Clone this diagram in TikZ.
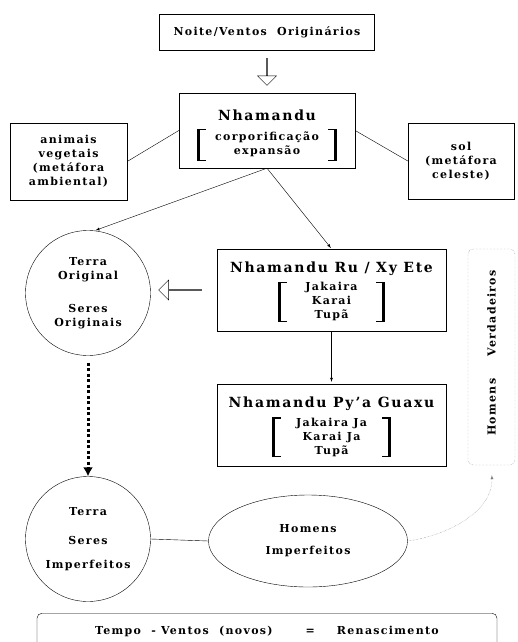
\documentclass[tikz,border=0pt]{standalone}
\usepackage{fontspec}
\setmainfont{DejaVu Serif}[LetterSpace=12]
\usepackage{tikz}
\usetikzlibrary{arrows,arrows.meta,shapes,positioning}
\tikzset{
  basic/.style  = {draw, thin, font=\bfseries\fontsize{11}{14}\selectfont, align=center},
  caixa/.style  = {basic, rectangle, inner sep=2pt},
  roda/.style   = {basic, circle, minimum size=125pt, inner sep=0pt},
  oval/.style   = {basic, ellipse, minimum width=199pt, minimum height=92pt, inner sep=0pt},
  oca/.style    = {draw, single arrow, fill=white, inner sep=0pt, single arrow head extend=5pt}
}
% colchetes grossos: #1 largura do miolo, #2 altura, #3 linhas
\newcommand{\barraL}[1]{\rlap{\rule{9pt}{1.3pt}}\rlap{\rule[\dimexpr#1-1.3pt]{9pt}{1.3pt}}\rule{3pt}{#1}}
\newcommand{\barraR}[1]{\rule{3pt}{#1}\llap{\rule{9pt}{1.3pt}}\llap{\rule[\dimexpr#1-1.3pt]{9pt}{1.3pt}}}
\newcommand{\colchete}[3]{$\vcenter{\hbox{\barraL{#2}}}$\makebox[#1][c]{\begin{tabular}{@{}c@{}}#3\end{tabular}}$\vcenter{\hbox{\barraR{#2}}}$}
\newcommand{\tit}[2]{{\bfseries\fontsize{14}{17}\selectfont\rule{0pt}{#1}#2}}

\begin{document}
\begin{tikzpicture}[x=1pt,y=1pt,>=latex]
\useasboundingbox (0,0) rectangle (517,-642);

% topo: ventos, Nhamandu e as duas metaforas
\node[caixa, minimum width=215pt, minimum height=36pt] (noite) at (267,-32) {Noite/Ventos\ \ Originários};
\node[oca, below=8pt of noite, shape border rotate=270, minimum height=27pt, minimum width=19pt] (setaA) {};
\node[caixa, minimum width=176pt, minimum height=75pt] (nham) at (267,-130.5)
  {\tit{21pt}{Nhamandu}\\[7pt] \colchete{134pt}{32pt}{corporificação\\expansão}};
\node[caixa, minimum width=117pt, minimum height=77pt] (animais) at (68.5,-161.5) {animais\\vegetais\\(metáfora\\ambiental)};
\node[caixa, minimum width=106pt, minimum height=76pt] (sol) at (461,-161) {sol\\(metáfora\\celeste)};

\node[roda] (terraorig) at (88,-293) {Terra\\Original\\[19pt]Seres\\Originais};
\node[caixa, minimum width=229pt, minimum height=82pt] (ru) at (331.5,-290)
  {\tit{16pt}{Nhamandu Ru / Xy Ete}\\[4pt] \colchete{101pt}{40pt}{Jakaira\\Karai\\Tupã}};
\node[oca, left=15pt of ru, shape border rotate=180, minimum height=43pt, minimum width=20pt] (setaB) {};
\node[caixa, minimum width=229pt, minimum height=82pt] (pya) at (331.5,-425)
  {\tit{15.5pt}{Nhamandu Py’a Guaxu}\\[5pt] \colchete{113pt}{40pt}{Jakaira Ja\\Karai Ja\\Tupã}};

\node[roda] (terraimp) at (88,-539) {Terra\\[15pt]Seres\\[10pt]Imperfeitos};
\node[oval] (homens) at (308,-541) {Homens\\[8pt]Imperfeitos};
\node[caixa, rounded corners=5pt, densely dotted, draw=gray, rotate=90,
      minimum width=216pt, minimum height=47pt] (verdad) at (491.5,-357) {\hspace{8pt}Homens\hspace{22pt}Verdadeiros};
\node[caixa, rounded corners=5pt, anchor=north, minimum width=460pt,
      inner sep=4pt, text height=17pt, text depth=22pt] (tempo) at (267,-613)
  {Tempo\ \ - Ventos\ \ (novos)\qquad\quad=\qquad Renascimento};

\draw (nham.west) -- (animais.east);
\draw (nham.east) -- (sol.west);
\foreach \alvo in {terraorig.84,ru.north}
  \draw[->, shorten >=1pt] (nham.south) -- (\alvo);
\draw[->, shorten >=2pt] (ru.south) -- (pya.north);
\draw[-{Latex[length=9pt,width=10pt]}, line width=3pt, dash pattern=on 3pt off 2.5pt, shorten <=7pt]
  (terraorig.south) -- (terraimp.north);
\draw (terraimp.east) -- (homens.west);
\draw[->, densely dotted, gray, shorten >=10pt] (homens.east) to[out=8,in=-88] (verdad.west);

\end{tikzpicture}
\end{document}
